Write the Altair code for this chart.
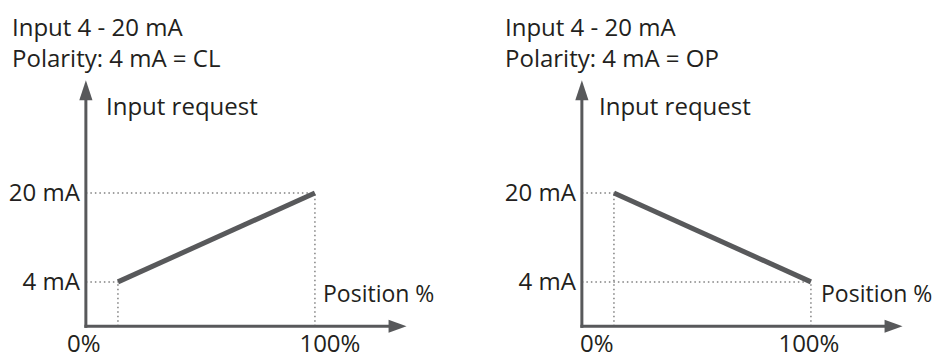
import altair as alt
import pandas as pd

# ---- chart values ----
position_pct = [14, 100]          # line start / end position (%)
input_cl_ma = [4, 20]             # polarity 4 mA = CL
input_op_ma = [20, 4]             # polarity 4 mA = OP
y_tick_values = [4, 20]
y_tick_labels = ["4 mA", "20 mA"]
x_tick_values = [0, 100]
x_tick_labels = ["0%", "100%"]
title_cl = ["Input 4 - 20 mA", "Polarity: 4 mA = CL"]
title_op = ["Input 4 - 20 mA", "Polarity: 4 mA = OP"]
y_axis_title = "Input request"
x_axis_title = "Position %"

# ---- layout / style ----
FONT = "Open Sans"
INK = "#231f20"
GREY = "#58595b"
DOT = "#808080"
W, H = 429, 350
X_DOM = [-34, 153.3]
Y_DOM = [-9.7, 53.3]
X0, Y0 = 0, -4          # axis origin
X_TIP, Y_TIP = 140, 40.3  # arrow tips

xscale = alt.Scale(domain=X_DOM, nice=False, zero=False)
yscale = alt.Scale(domain=Y_DOM, nice=False, zero=False)


def X(f):
    return alt.X(f, type="quantitative", scale=xscale, axis=None)


def Y(f):
    return alt.Y(f, type="quantitative", scale=yscale, axis=None)


def panel(values_ma, title_lines, xlab_dx, pos_title_x, req_title_x, title_x):
    line_df = pd.DataFrame({"pos": position_pct, "ma": values_ma})
    gh = pd.DataFrame({"x0": [X0] * len(values_ma), "x1": position_pct, "y": values_ma})
    gv = pd.DataFrame({"x": position_pct, "y0": [Y0] * len(values_ma), "y1": values_ma})

    guides_h = alt.Chart(gh).mark_rule(color=DOT, strokeWidth=1.5, strokeDash=[1.5, 3]).encode(
        x=X("x0"), x2="x1", y=Y("y"))
    guides_v = alt.Chart(gv).mark_rule(color=DOT, strokeWidth=1.5, strokeDash=[1.5, 3]).encode(
        x=X("x"), y=Y("y0"), y2="y1")

    ax_df = pd.DataFrame({"x0": [X0, X0], "x1": [X_TIP - 3.5, X0],
                          "y0": [Y0, Y0], "y1": [Y0, Y_TIP - 1.4]})
    axes = alt.Chart(ax_df).mark_rule(color=GREY, strokeWidth=3, strokeCap="square").encode(
        x=X("x0"), x2="x1", y=Y("y0"), y2="y1")

    head_x = alt.Chart(pd.DataFrame({"x": [X_TIP], "y": [Y0]})).mark_point(
        shape="M0,0 L-1,-0.36 L-1,0.36 Z", size=1296, filled=True, opacity=1,
        color=GREY, strokeWidth=0).encode(x=X("x"), y=Y("y"))
    head_y = alt.Chart(pd.DataFrame({"x": [X0], "y": [Y_TIP]})).mark_point(
        shape="M0,0 L-0.33,1 L0.33,1 Z", size=1600, filled=True, opacity=1,
        color=GREY, strokeWidth=0).encode(x=X("x"), y=Y("y"))

    line = alt.Chart(line_df).mark_line(color=GREY, strokeWidth=5, strokeCap="butt").encode(
        x=X("pos"), y=Y("ma"))

    ytl = alt.Chart(pd.DataFrame({"x": [X0] * len(y_tick_values), "y": y_tick_values,
                                  "t": y_tick_labels})).mark_text(
        font=FONT, fontSize=24, color=INK, align="right", baseline="middle", dx=-6, dy=1).encode(
        x=X("x"), y=Y("y"), text="t:N")

    xtl = []
    for v, lab, dx in zip(x_tick_values, x_tick_labels, xlab_dx):
        xtl.append(alt.Chart(pd.DataFrame({"x": [v], "y": [Y0], "t": [lab]})).mark_text(
            font=FONT, fontSize=24, color=INK, align="center", baseline="alphabetic",
            dx=dx, dy=26).encode(x=X("x"), y=Y("y"), text="t:N"))

    one = alt.Data(values=[{"k": 0}])
    title = alt.Chart(one).mark_text(
        font=FONT, fontSize=24, color=INK, align="left", baseline="alphabetic", lineHeight=31).encode(
        x=alt.value(title_x), y=alt.value(28), text=alt.value(title_lines))
    req = alt.Chart(one).mark_text(
        font=FONT, fontSize=24, color=INK, align="left", baseline="alphabetic").encode(
        x=alt.value(req_title_x), y=alt.value(107), text=alt.value(y_axis_title))
    pos = alt.Chart(one).mark_text(
        font=FONT, fontSize=23, color=INK, align="left", baseline="alphabetic").encode(
        x=alt.value(pos_title_x), y=alt.value(294), text=alt.value(x_axis_title))

    return alt.layer(guides_h, guides_v, axes, head_x, head_y, line, ytl, *xtl,
                     title, req, pos).properties(width=W, height=H)


left = panel(input_cl_ma, title_cl, [-2, 15], 315, 98, 4)
right = panel(input_op_ma, title_op, [15, -2], 317, 95, 1)

chart = alt.hconcat(left, right, spacing=67, bounds="flush").properties(
    padding=0, background="white"
).configure_view(stroke=None)

chart.save("out.html", embed_options={"renderer": "svg", "actions": False})
